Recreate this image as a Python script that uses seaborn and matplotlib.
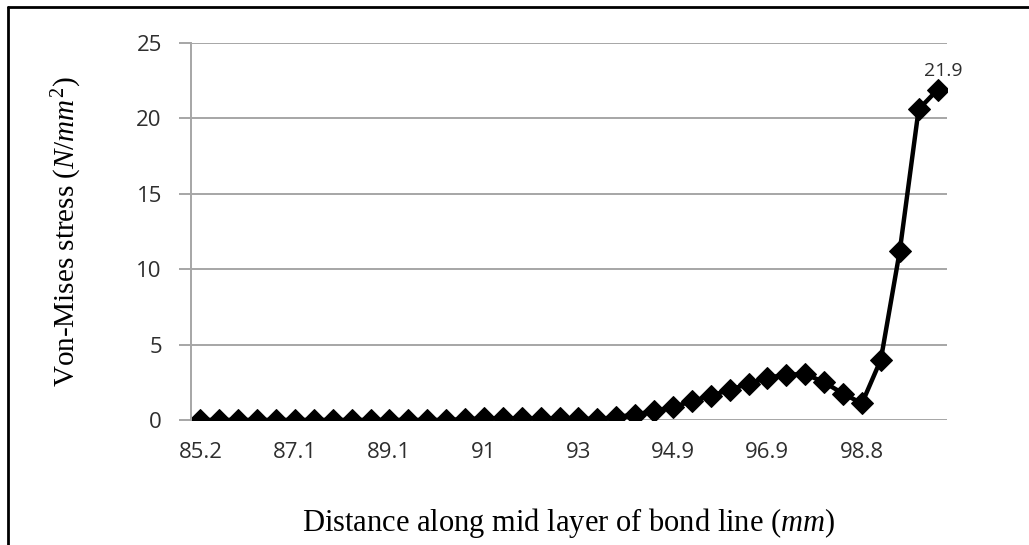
import numpy as np
import matplotlib.pyplot as plt
import matplotlib.lines as mlines
import seaborn as sns

# -------------------- Data --------------------
# 40 points along the bond line; only every 5th one carries a label
stress = [0.0, 0.0, 0.0, 0.0, 0.0, 0.0, 0.0, 0.0, 0.0, 0.0,
          0.0, 0.0, 0.0, 0.0, 0.05, 0.1, 0.1, 0.1, 0.1, 0.1,
          0.1, 0.05, 0.2, 0.35, 0.6, 0.85, 1.25, 1.6, 2.0, 2.4,
          2.8, 3.0, 3.05, 2.5, 1.75, 1.1, 4.0, 11.2, 20.6, 21.9]
tick_labels = ['85.2', '87.1', '89.1', '91', '93', '94.9', '96.9', '98.8']
y_ticks = [0, 5, 10, 15, 20, 25]
point_idx = list(range(len(stress)))

sns.set_theme(style='white')
plt.rcParams['mathtext.fontset'] = 'custom'
plt.rcParams['mathtext.it'] = 'Liberation Serif:italic'
plt.rcParams['mathtext.rm'] = 'Liberation Serif'

fig = plt.figure(figsize=(10.29, 5.45), dpi=100)
ax = fig.add_axes([0.1856, 0.2294, 0.7347, 0.6917])

sns.lineplot(x=point_idx, y=stress, ax=ax, color='black', linewidth=3.2,
             marker='D', markersize=11, markeredgecolor='black')

ax.set_xlim(-0.5, len(stress) - 0.5)
ax.set_ylim(0, 25)
ax.set_yticks(y_ticks)
ax.set_xticks(point_idx[::5])
ax.set_xticklabels(tick_labels)

# gridlines + axis styling like the spreadsheet original
for v in y_ticks:
    ax.axhline(v, color='#a6a6a6', linewidth=1.4, zorder=0)
for s in ['top', 'right', 'bottom']:
    ax.spines[s].set_visible(False)
ax.spines['left'].set_color('#a6a6a6')
ax.spines['left'].set_linewidth(1.4)
ax.tick_params(axis='y', which='major', left=True, length=9, width=1.4,
               color='#a6a6a6', pad=12, labelsize=16, labelcolor='#2e2e2e')
ax.tick_params(axis='x', which='major', bottom=False, pad=10,
               labelsize=16, labelcolor='#2e2e2e')
for lbl in ax.get_xticklabels() + ax.get_yticklabels():
    lbl.set_fontfamily('Open Sans')

# value label on the last point
ax.annotate(f'{stress[-1]}', xy=(point_idx[-1], stress[-1]), xytext=(-10, 7),
            textcoords='offset points', ha='left', va='bottom',
            fontsize=14, color='#2e2e2e', family='Open Sans')
ax.patch.set_alpha(0)

ax.set_xlabel('Distance along mid layer of bond line ($\\mathit{mm}$)',
              fontsize=22, family='Liberation Serif', color='black', labelpad=31)
ax.set_ylabel('Von-Mises stress ($\\mathit{N/mm}^{2}$)',
              fontsize=21, family='Liberation Serif', color='black', labelpad=38)

# black frame on the top and left edges of the image
fig.add_artist(mlines.Line2D([8 / 1029, 1], [1 - 7 / 545, 1 - 7 / 545],
                             color='black', linewidth=2, transform=fig.transFigure))
fig.add_artist(mlines.Line2D([8 / 1029, 8 / 1029], [0, 1 - 7 / 545],
                             color='black', linewidth=2, transform=fig.transFigure))

fig.savefig('out.png', dpi=100, facecolor='white')
